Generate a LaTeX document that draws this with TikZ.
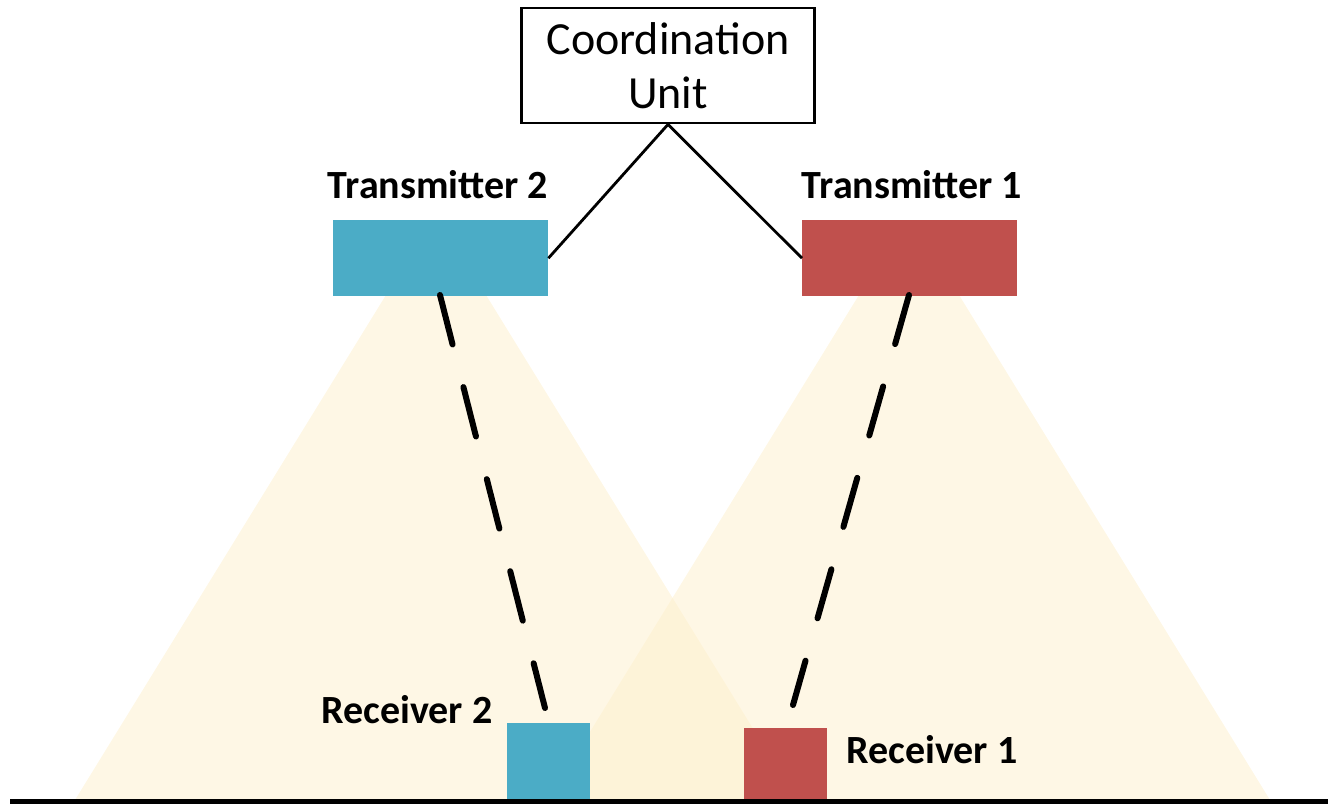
\documentclass[tikz,border=0pt]{standalone}
\usepackage{fontspec}
\setmainfont{Carlito}
\definecolor{txblue}{HTML}{4BACC6}
\definecolor{txred}{HTML}{C0504D}
\definecolor{beam}{RGB}{253,239,203}
\begin{document}
\begin{tikzpicture}[x=1pt,y=-1pt,
  cone/.style={fill=beam,fill opacity=0.5,draw=none},
  txbox/.style={draw=none,minimum width=215pt,minimum height=76pt,inner sep=0pt,anchor=north west},
  rxbox/.style={draw=none,minimum width=83pt,inner sep=0pt,anchor=north west},
  lbl/.style={font=\fontsize{40}{48}\selectfont\bfseries,anchor=base,inner sep=0pt},
  link/.style={line width=6pt,line cap=round,dash pattern=on 51pt off 44pt},
  wire/.style={line width=2.8pt},
  cubox/.style={draw,line width=2.8pt,minimum width=293pt,minimum height=115pt,inner sep=0pt,align=center,font=\fontsize{46}{54}\selectfont}]
\useasboundingbox (0,0) rectangle (1328,804);
% light beams
\fill[cone] (386,295) -- (486,295) -- (797,800) -- (75,800) -- cycle;
\fill[cone] (859,295) -- (959,295) -- (1270,800) -- (548,800) -- cycle;
% transmitters and receivers
\node[txbox,fill=txblue] (tx2) at (333,220) {};
\node[txbox,fill=txred] (tx1) at (802,220) {};
\node[rxbox,fill=txblue,minimum height=76pt] (rx2) at (507,723) {};
\node[rxbox,fill=txred,minimum height=72pt] (rx1) at (744,728) {};
% optical links
\coordinate (l2a) at (440,295);
\coordinate (l2b) at (545,708);
\coordinate (l1a) at (909,295);
\coordinate (l1b) at (793,705);
\draw[link] (l2a) -- (l2b);
\draw[link] (l1a) -- (l1b);
% labels
\node[lbl] (t2) at (438,198) {Transmitter 2};
\node[lbl] (t1) at (912,198) {Transmitter 1};
\node[lbl] (r2) at (407,723) {Receiver 2};
\node[lbl] (r1) at (932,763) {Receiver 1};
% coordination unit
\node[cubox] (cu) at (668,65.5) {Coordination\\Unit};
\draw[wire] (cu.south) -- (tx2.east);
\draw[wire] (cu.south) -- (tx1.west);
% ground
\coordinate (g0) at (10,801.5);
\coordinate (g1) at (1328,801.5);
\draw[line width=5pt] (g0) -- (g1);
\end{tikzpicture}
\end{document}
